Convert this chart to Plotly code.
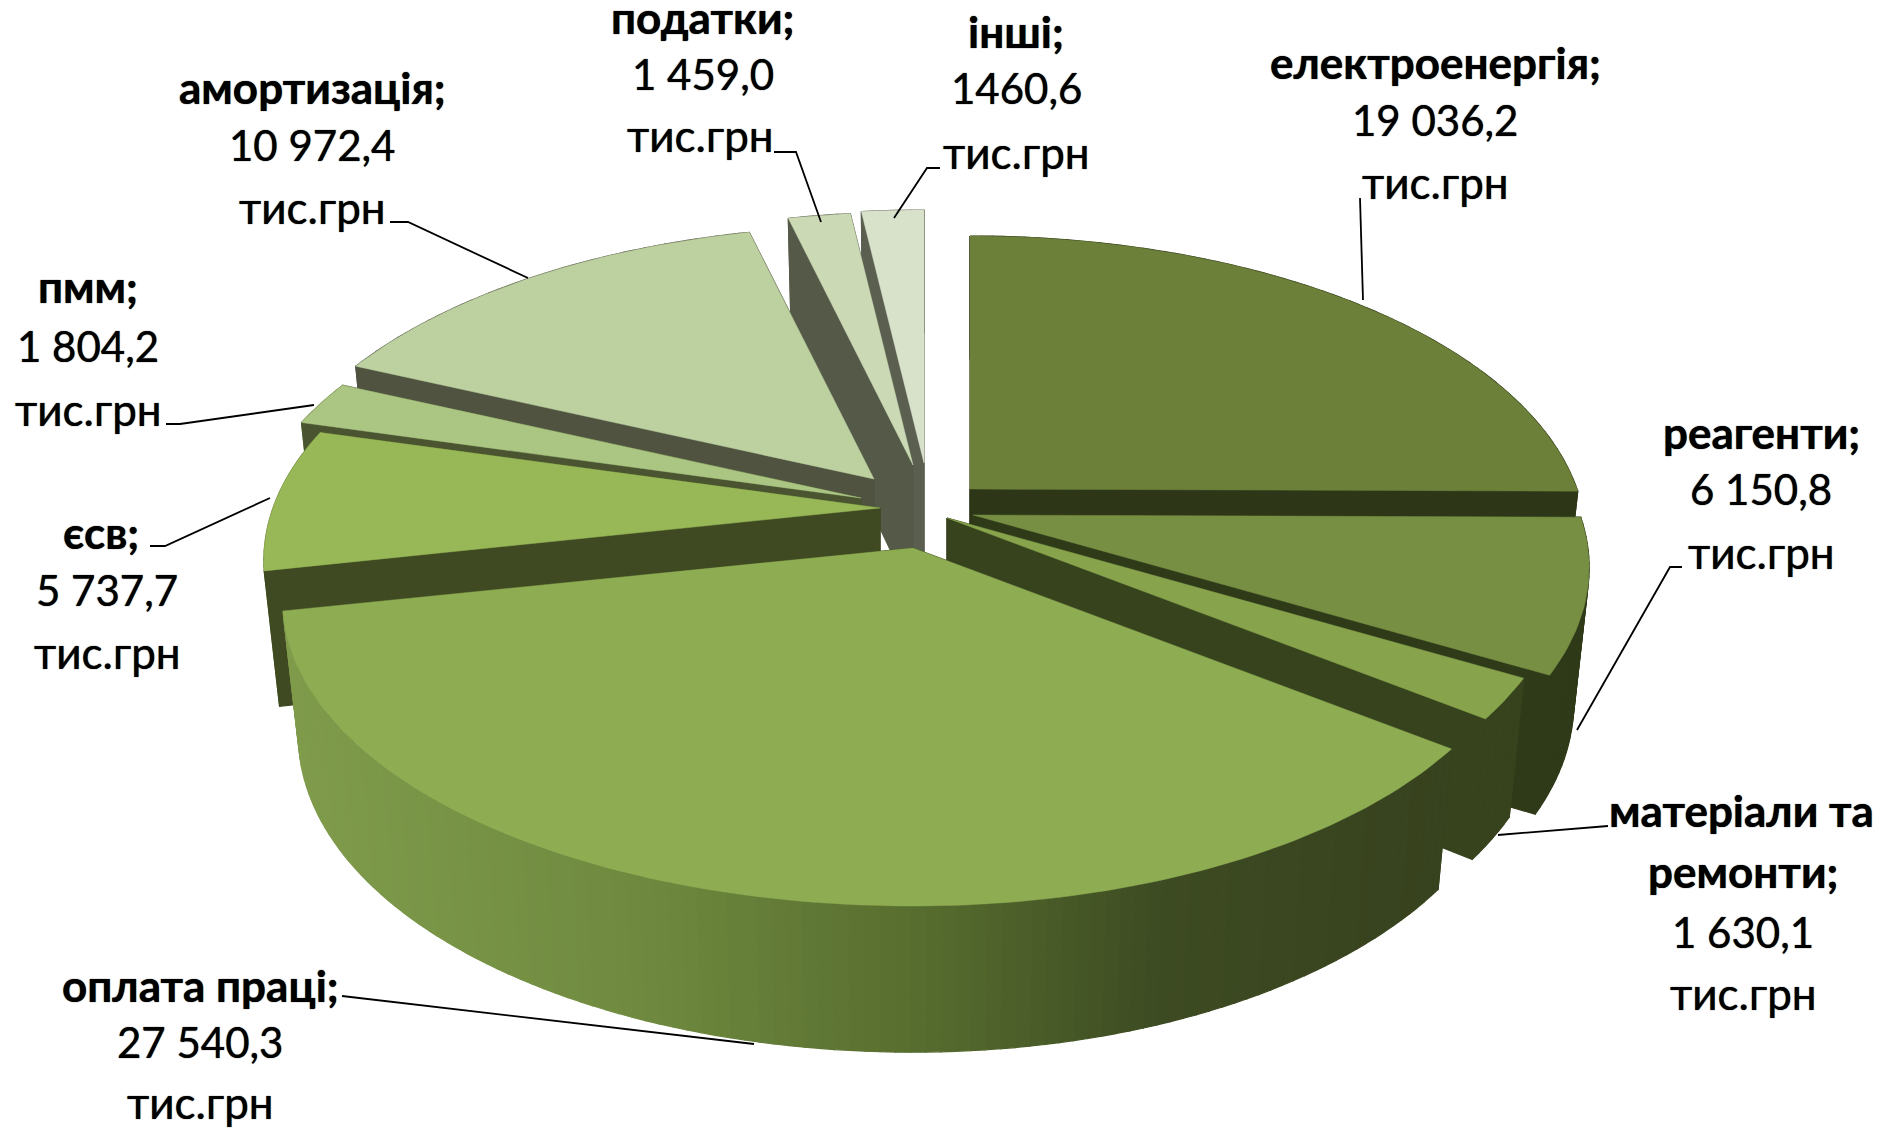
import math
import plotly.graph_objects as go

# ---- data ----
categories = ["електроенергія", "реагенти", "матеріали та ремонти", "оплата праці", "єсв",
              "пмм", "амортизація", "податки", "інші"]
values = [19036.2, 6150.8, 1630.1, 27540.3, 5737.7, 1804.2, 10972.4, 1459.0, 1460.6]
unit = "тис.грн"
value_labels = ["19 036,2", "6 150,8", "1 630,1", "27 540,3", "5 737,7", "1 804,2", "10 972,4", "1 459,0", "1460,6"]

# ---- style and layout ----
top_colors = ["#6c803a", "#778f42", "#87a44d", "#8ead53", "#98b858", "#abc583", "#bcd0a0", "#cbd9b5", "#d8e2cb"]
wall_colors = ["#2e3618", "#2f3a19", "#37431d", "#37421e", "#3f4922", "#4a5431", "#4f5340", "#555a48", "#5a5f50"]
draw_order = [0, 8, 7, 6, 5, 4, 1, 2, 3]
CENTER = (927, 505)
EXPLODE = [(43, -16), (46, 10), (20, 13), (-14, 43), (-47, 3), (-66, -7), (-53, -26), (-14, -40), (-3, -42)]
LEFT_STRETCH = [1, 1, 1, 1.023, 1, 1, 1, 1, 1]
R, KR, D = 607.0, 296.5, 5.82
DEPTH = 133.0
BOTTOM_SHRINK = 0.975
FONT = "Lato"
FS = 44
FS_VALUE = 42
SHADOW = "0 0 1px #000000"

total = sum(values)
fig = go.Figure()


def poly(xs, ys, color):
    fig.add_trace(go.Scatter(x=xs, y=ys, mode="lines", fill="toself", fillcolor=color,
                             line=dict(color=color, width=1.2), hoverinfo="skip", showlegend=False))


def persp(c):
    return D / (D + c)


def rim(i, ax, ay, th):
    s, c = math.sin(th), math.cos(th)
    f = persp(c)
    sx = LEFT_STRETCH[i] if s < 0 else 1
    x, y = ax + s * R * f * sx, ay - c * KR * f
    return x, y, f


def bottom(ax, ay, x, y, f):
    return ax + (x - ax) * BOTTOM_SHRINK, y + DEPTH * f ** 0.5


def lerp_hex(a, b, t):
    ca = [int(a[i:i + 2], 16) for i in (1, 3, 5)]
    cb = [int(b[i:i + 2], 16) for i in (1, 3, 5)]
    return "#%02x%02x%02x" % tuple(round(p + (q - p) * t) for p, q in zip(ca, cb))


def outer_color(i, x):
    if i == 3:
        t = min(1, max(0, (x - 290) / (1450 - 290)))
        stops = [(0, "#7f9b4b"), (0.3, "#6f8a3f"), (0.55, "#566c2e"), (0.75, "#3d4b22"), (1, "#37421e")]
        for (t0, c0), (t1, c1) in zip(stops, stops[1:]):
            if t <= t1:
                return lerp_hex(c0, c1, (t - t0) / (t1 - t0))
    if i == 4 or i == 5:
        return lerp_hex("#7a9647", wall_colors[i], 0.2)
    return wall_colors[i]


bounds = []
acc = 0.0
for v in values:
    bounds.append((acc / total * 2 * math.pi, (acc + v) / total * 2 * math.pi))
    acc += v

for i in draw_order:
    a0, a1 = bounds[i]
    ax, ay = CENTER[0] + EXPLODE[i][0], CENTER[1] + EXPLODE[i][1]
    abx, aby = ax, ay + DEPTH

    def radial(th):
        x, y, f = rim(i, ax, ay, th)
        bx, by = bottom(ax, ay, x, y, f)
        poly([ax, x, bx, abx, ax], [ay, y, by, aby, ay], wall_colors[i])

    # radial walls that face away from the viewer
    if math.cos(a0 - math.pi / 2) > 0:
        radial(a0)
    if math.cos(a1 + math.pi / 2) > 0:
        radial(a1)

    # outer wall, cut in thin strips so the shading can vary
    n = max(4, int((a1 - a0) / math.radians(1.2)))
    for k in range(n):
        t0 = a0 + (a1 - a0) * k / n
        t1 = a0 + (a1 - a0) * (k + 1) / n
        x0, y0, f0 = rim(i, ax, ay, t0)
        x1, y1, f1 = rim(i, ax, ay, t1)
        bx0, by0 = bottom(ax, ay, x0, y0, f0)
        bx1, by1 = bottom(ax, ay, x1, y1, f1)
        poly([x0, x1, bx1, bx0, x0], [y0, y1, by1, by0, y0], outer_color(i, (x0 + x1) / 2))

    # radial walls that face the viewer
    if math.cos(a0 - math.pi / 2) <= 0:
        radial(a0)
    if math.cos(a1 + math.pi / 2) <= 0:
        radial(a1)

    # top face
    m = max(6, int((a1 - a0) / math.radians(1.0)))
    pts = [rim(i, ax, ay, a0 + (a1 - a0) * k / m)[:2] for k in range(m + 1)]
    fig.add_trace(go.Scatter(x=[ax] + [p[0] for p in pts] + [ax], y=[ay] + [p[1] for p in pts] + [ay],
                             mode="lines", fill="toself", fillcolor=top_colors[i],
                             line=dict(color=top_colors[i], width=0.5), hoverinfo="skip", showlegend=False))

# ---- leader lines (screen layout of the labels) ----
leaders = [
    [(1360, 198), (1363, 300)],
    [(1682, 567), (1670, 567), (1577, 730)],
    [(1608, 826), (1498, 835)],
    [(342, 996), (754, 1044)],
    [(150, 546), (165, 546), (270, 498)],
    [(166, 424), (180, 424), (314, 405)],
    [(390, 222), (408, 222), (528, 278)],
    [(774, 152), (796, 152), (821, 222)],
    [(940, 168), (927, 168), (894, 218)],
]
for pts in leaders:
    fig.add_trace(go.Scatter(x=[p[0] for p in pts], y=[p[1] for p in pts], mode="lines",
                             line=dict(color="#000000", width=1.8), hoverinfo="skip", showlegend=False))

# ---- labels ----
label_lines = [
    [(categories[0] + ";", 1435, 62, True), (value_labels[0], 1435, 120, False), (unit, 1435, 182, False)],
    [(categories[1] + ";", 1761, 432, True), (value_labels[1], 1761, 489, False), (unit, 1761, 552, False)],
    [("матеріали та", 1741, 810, True), ("ремонти;", 1743, 871, True), (value_labels[2], 1743, 932, False), (unit, 1743, 993, False)],
    [(categories[3] + ";", 200, 985, True), (value_labels[3], 200, 1042, False), (unit, 200, 1102, False)],
    [(categories[4] + ";", 101, 532, True), (value_labels[4], 107, 590, False), (unit, 107, 652, False)],
    [(categories[5] + ";", 88, 286, True), (value_labels[5], 88, 346, False), (unit, 88, 409, False)],
    [(categories[6] + ";", 312, 87, True), (value_labels[6], 312, 145, False), (unit, 312, 207, False)],
    [(categories[7] + ";", 703, 17, True), (value_labels[7], 703, 74, False), (unit, 700, 135, False)],
    [(categories[8] + ";", 1016, 31, True), (value_labels[8], 1016, 88, False), (unit, 1016, 152, False)],
]
annotations = []
for block in label_lines:
    for text, x, y, bold in block:
        is_value = (not bold) and text != unit
        annotations.append(dict(x=x, y=y, xref="x", yref="y", showarrow=False, xanchor="center", yanchor="middle",
                                text=f"<b>{text}</b>" if bold else text,
                                font=dict(family=FONT, size=FS_VALUE if is_value else FS, color="#000000",
                                          shadow=SHADOW)))

fig.update_layout(
    width=1881, height=1131, autosize=False,
    margin=dict(l=0, r=0, t=0, b=0), paper_bgcolor="#ffffff", plot_bgcolor="#ffffff",
    showlegend=False, annotations=annotations,
    xaxis=dict(range=[0, 1881], visible=False, fixedrange=True),
    yaxis=dict(range=[1131, 0], visible=False, fixedrange=True),
)
fig.write_html("out.html", config=dict(displayModeBar=False),
               post_script="document.body.style.margin='0';document.body.style.overflow='hidden';")
